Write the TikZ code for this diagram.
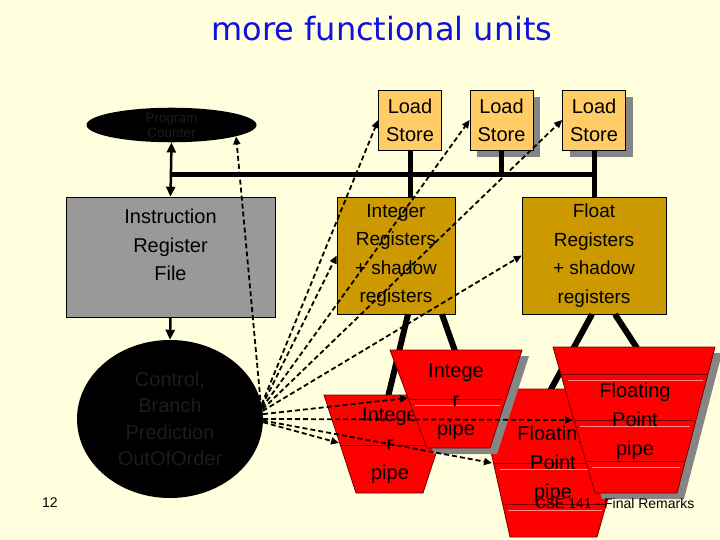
\documentclass[tikz,border=0pt]{standalone}
\usepackage{fontspec}
\setmainfont{Liberation Sans}
\newfontfamily\titlefont{DejaVu Sans}
\usetikzlibrary{arrows.meta,shapes.geometric,calc}
\definecolor{bg}{HTML}{FFFFDD}
\definecolor{lsorange}{HTML}{FFCC66}
\definecolor{regold}{HTML}{CC9900}
\definecolor{irfgray}{HTML}{999999}
\definecolor{pipered}{HTML}{FF0000}
\definecolor{pipeedge}{HTML}{700000}
\definecolor{pipelight}{HTML}{FF9090}
\definecolor{shadowgray}{HTML}{858585}
\definecolor{dimtext}{HTML}{1C1C1C}
\definecolor{titleblue}{HTML}{1010E0}
\begin{document}
\begin{tikzpicture}[x=1pt,y=-1pt,
  lsbox/.style={draw=black,line width=0.6pt,fill=lsorange,minimum width=63pt,minimum height=60pt,inner sep=0pt,align=center,font=\fontsize{20}{28}\selectfont},
  regbox/.style={draw=black,line width=0.6pt,fill=regold,inner sep=0pt,align=center,font=\fontsize{19}{28.5}\selectfont},
  ctlline/.style={line width=1.8pt,dash pattern=on 5pt off 3pt,-{Triangle[length=8pt,width=7pt]}},
  busline/.style={line width=5pt},
  feed/.style={line width=6pt},
  solidarrow/.style={line width=2.5pt},
  pipebody/.style={draw=pipeedge,line width=0.8pt,fill=pipered},
  pipeshadow/.style={fill=shadowgray},
  darkstripe/.style={draw=pipeedge,line width=0.8pt},
  lightstripe/.style={draw=pipelight,line width=0.8pt},
  pipetext/.style={align=center,inner sep=0pt,font=\fontsize{20}{29}\selectfont,text=black}
]
\useasboundingbox (0,0) rectangle (720,540);
\fill[bg] (0,0) rectangle (720,540);

% title
\node[text=titleblue,font=\titlefont\fontsize{32}{36}\selectfont] (title) at (382,29) {more functional units};

% program counter, IRF, control
\node[ellipse,fill=black,minimum width=170pt,minimum height=30pt,inner sep=0pt,align=center,text=dimtext,font=\fontsize{13.5}{15}\selectfont] (pc) at (171.5,125) {Program\\Counter};
\node[draw=black,line width=0.6pt,fill=irfgray,minimum width=209pt,minimum height=120pt,inner sep=0pt] (irf) at (170.5,257) {};
\node[align=center,inner sep=0pt,font=\fontsize{20}{28.5}\selectfont,text=black] (irftext) at (170.5,245) {Instruction\\Register\\File};
\node[ellipse,fill=black,minimum width=186pt,minimum height=158pt,inner sep=0pt,align=center,text=dimtext,font=\fontsize{20}{26.5}\selectfont] (ctrl) at (170,419) {Control,\\Branch\\Prediction\\OutOfOrder};

\draw[solidarrow,{Triangle[length=10pt,width=9pt]}-{Triangle[length=10pt,width=9pt]}] (pc.south) -- (irf.north);
\draw[solidarrow,-{Triangle[length=10pt,width=9pt]}] (irf.south) -- (ctrl.north);

% load/store units
\node[fill=shadowgray,minimum width=63pt,minimum height=60pt,inner sep=0pt] at (508.5,127) {};
\node[fill=shadowgray,minimum width=63pt,minimum height=60pt,inner sep=0pt] at (601,127) {};
\node[lsbox] (ls1) at (410,120) {Load\\Store};
\node[lsbox] (ls2) at (501.5,120) {Load\\Store};
\node[lsbox] (ls3) at (594,120) {Load\\Store};

% register files
\node[regbox,minimum width=118pt,minimum height=117pt] (intreg) at (396,255.5) {Integer\\Registers\\+ shadow\\registers};
\node[regbox,minimum width=144pt,minimum height=117pt] (fltreg) at (594,255.5) {Float\\Registers\\+ shadow\\registers};

% bus
\coordinate (busL) at (171,175);
\coordinate (busR) at (594,175);
\draw[busline] (busL) -- (busR);
\draw[busline] (ls1.south) -- (ls1.south |- intreg.north);
\draw[busline] (ls2.south) -- (ls2.south |- busR);
\draw[busline] (ls3.south) -- (ls3.south |- fltreg.north);

% feeds from register files to pipes
\coordinate (ip1top) at (388,397);
\coordinate (ip2top) at (455,351);
\coordinate (fp1top) at (550,391);
\coordinate (fp2top) at (637,348);
\draw[feed] (intreg.south -| 408,0) -- (ip1top);
\draw[feed] (intreg.south -| 442,0) -- (ip2top);
\draw[feed] (fltreg.south -| 592,0) -- (fp1top);
\draw[feed] (fltreg.south -| 615,0) -- (fp2top);

% lower floating point pipe
\path[pipebody] (477,389) -- (639,389) -- (597,537) -- (510,537) -- cycle;
\draw[darkstripe] (495,463) -- (616,463);
\draw[lightstripe] (500,469) -- (612,469);
\draw[darkstripe] (505,504) -- (605,504);
\draw[lightstripe] (508,510) -- (602,510);
\node[pipetext] (fp1text) at (553,464) {Floating\\Point\\pipe};

% lower integer pipe
\path[pipebody] (324,395) -- (455,395) -- (423,493) -- (356,493) -- cycle;
\draw[darkstripe] (341,445) -- (437,445);
\node[pipetext] (ip1text) at (390,446) {Intege\\r\\pipe};

% upper integer pipe
\path[pipeshadow,shift={(7,6)}] (390,350) -- (522,350) -- (490,448) -- (427,448) -- cycle;
\path[pipebody] (390,350) -- (522,350) -- (490,448) -- (427,448) -- cycle;
\draw[darkstripe] (410,399) -- (502,399);
\draw[lightstripe] (415,405) -- (500,405);
\node[pipetext] (ip2text) at (456,402) {Intege\\r\\pipe};

% upper floating point pipe
\path[pipeshadow,shift={(7,6)}] (553,347) -- (715,347) -- (677,493) -- (595,493) -- cycle;
\path[pipebody] (553,347) -- (715,347) -- (677,493) -- (595,493) -- cycle;
\draw[darkstripe] (562,374) -- (707,374);
\draw[lightstripe] (568,380) -- (703,380);
\draw[darkstripe] (575,420) -- (694,420);
\draw[lightstripe] (580,426) -- (690,426);
\draw[darkstripe] (587,461) -- (684,461);
\draw[lightstripe] (592,467) -- (680,467);
\node[pipetext] (fp2text) at (635,421) {Floating\\Point\\pipe};

% entry points on the pipes
\coordinate (ip1in) at (339,443);
\coordinate (ip2in) at (408,398);
\coordinate (fp1in) at (492,463);
\coordinate (fp2in) at (573,420);

% control connectors
\draw[ctlline] (ctrl.12) -- (pc.-10);
\draw[ctlline] (ctrl.9) -- (ls1.west);
\draw[ctlline] (ctrl.8) -- (intreg.west);
\draw[ctlline] (ctrl.7) -- (ls2.west);
\draw[ctlline] (ctrl.6) -- (ls3.west);
\draw[ctlline] (ctrl.5) -- (fltreg.west);
\draw[ctlline] (ctrl.3) -- (ip2in);
\draw[ctlline] (ctrl.east) -- (fp2in);
\draw[ctlline] (ctrl.-2) -- (ip1in);
\draw[ctlline] (ctrl.-1) -- (fp1in);

% footer
\node[font=\fontsize{14}{16}\selectfont] (pagenum) at (50,503) {12};
\node[font=\fontsize{14}{16}\selectfont] (footer) at (615,503) {CSE 141 - Final Remarks};
\end{tikzpicture}
\end{document}
